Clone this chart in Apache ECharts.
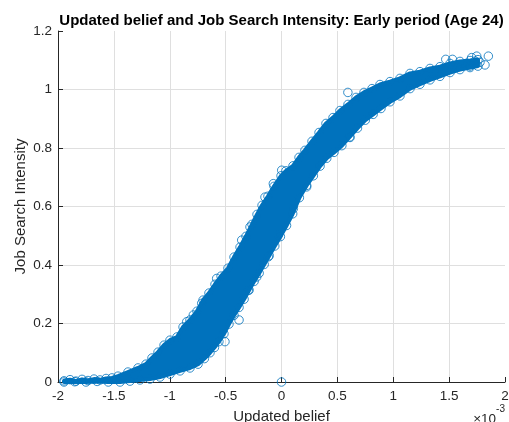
<!DOCTYPE html>
<html>
<head>
<meta charset="utf-8">
<script src="https://cdn.jsdelivr.net/npm/echarts@6/dist/echarts.min.js"></script>
<style>
  html, body { margin: 0; padding: 0; background: #ffffff; }
  #chart { width: 509px; height: 422px; }
</style>
</head>
<body>
<div id="chart"></div>
<script>
// Updated belief is stored in units of 1e-3 (the axis carries a x10^-3 multiplier).

// Upper boundary of the dense point cloud (marker centres along the top edge)
const upperBelief = [-1.946, -1.892, -1.839, -1.785, -1.732, -1.678, -1.624, -1.570, -1.517, -1.463,
  -1.374, -1.284, -1.213, -1.159, -1.105, -1.051, -0.998, -0.935, -0.881, -0.819,
  -0.756, -0.702, -0.649, -0.595, -0.541, -0.479, -0.425, -0.371, -0.318, -0.264,
  -0.219, -0.174, -0.121, -0.067, -0.004, 0.040, 0.103, 0.157, 0.210, 0.273,
  0.336, 0.398, 0.461, 0.523, 0.595, 0.667, 0.738, 0.810, 0.881, 0.971,
  1.060, 1.150, 1.239, 1.329, 1.418, 1.508, 1.597, 1.687, 1.758];
const upperIntensity = [0.004, 0.008, 0.003, 0.009, 0.005, 0.010, 0.007, 0.012, 0.014, 0.020,
  0.034, 0.048, 0.061, 0.082, 0.102, 0.126, 0.143, 0.154, 0.188, 0.212,
  0.242, 0.280, 0.304, 0.334, 0.362, 0.389, 0.427, 0.461, 0.498, 0.539,
  0.573, 0.604, 0.635, 0.669, 0.705, 0.722, 0.739, 0.768, 0.792, 0.823,
  0.853, 0.884, 0.904, 0.928, 0.949, 0.973, 0.990, 1.003, 1.017, 1.027,
  1.038, 1.055, 1.061, 1.072, 1.078, 1.089, 1.096, 1.099, 1.102];

// Lower boundary of the dense point cloud (marker centres along the bottom edge)
const lowerBelief = [-1.946, -1.850, -1.750, -1.650, -1.550, -1.445, -1.356, -1.266, -1.177, -1.087,
  -0.998, -0.908, -0.819, -0.747, -0.690, -0.640, -0.600, -0.560, -0.515, -0.470,
  -0.425, -0.380, -0.335, -0.290, -0.245, -0.200, -0.155, -0.110, -0.060, -0.010,
  0.045, 0.100, 0.160, 0.225, 0.285, 0.345, 0.405, 0.470, 0.540, 0.610,
  0.680, 0.750, 0.820, 0.890, 0.971, 1.060, 1.150, 1.239, 1.329, 1.418,
  1.508, 1.597, 1.687, 1.758];
const lowerIntensity = [0.000, 0.001, 0.000, 0.002, 0.000, 0.000, 0.003, 0.007, 0.010, 0.017,
  0.027, 0.038, 0.048, 0.061, 0.080, 0.100, 0.118, 0.138, 0.165, 0.198,
  0.228, 0.255, 0.283, 0.314, 0.344, 0.372, 0.402, 0.432, 0.465, 0.497,
  0.535, 0.575, 0.630, 0.672, 0.705, 0.738, 0.765, 0.785, 0.808, 0.838,
  0.868, 0.895, 0.915, 0.935, 0.958, 0.978, 1.003, 1.018, 1.033, 1.045,
  1.058, 1.068, 1.075, 1.080];

// Isolated observations standing out from the cloud
const looseBelief = [0.000, 0.594, 1.851, 1.821, 1.702, 1.747, 1.732, 1.687, 1.776, 0.613,
  -0.380, 1.470, 1.530, -0.848, -0.789, -0.714, -0.580, -0.356, -0.282, -0.148,
  -0.073, 0.002, -0.297, -0.222, -0.118, -0.029, 0.106, 0.225, -0.506];
const looseIntensity = [0.000, 0.990, 1.114, 1.084, 1.109, 1.114, 1.097, 1.080, 1.093, 0.836,
  0.212, 1.103, 1.103, 0.206, 0.229, 0.269, 0.354, 0.485, 0.530, 0.632,
  0.678, 0.724, 0.314, 0.359, 0.428, 0.502, 0.593, 0.667, 0.138];

// Axis ticks
const beliefTicks = { min: -2, max: 2, step: 0.5 };
const intensityTicks = { min: 0, max: 1.2, step: 0.2 };

const blue = '#0072BD';
const ink = '#262626';
const gridGray = '#dfdfdf';
const font = '"Liberation Sans", Arial, Helvetica, sans-serif';

function pairs(xs, ys) {
  return xs.map((x, i) => [x, ys[i]]);
}

const markers = pairs(upperBelief, upperIntensity)
  .concat(pairs(lowerBelief, lowerIntensity))
  .concat(pairs(looseBelief, looseIntensity));

const chart = echarts.init(document.getElementById('chart'), null, { renderer: 'canvas' });

chart.setOption({
  animation: false,
  backgroundColor: '#ffffff',
  grid: { left: 58, right: 4, top: 31, bottom: 40, containLabel: false, outerBoundsMode: 'none' },
  xAxis: {
    type: 'value',
    min: beliefTicks.min,
    max: beliefTicks.max,
    interval: beliefTicks.step,
    name: 'Updated belief',
    nameLocation: 'middle',
    nameGap: 27,
    nameMoveOverlap: false,
    nameTextStyle: { color: ink, fontSize: 15, fontFamily: font },
    axisLine: { show: true, onZero: false, lineStyle: { color: ink, width: 1 } },
    axisTick: { show: true, inside: true, length: 5, lineStyle: { color: ink } },
    axisLabel: { color: ink, fontSize: 13.5, fontFamily: font, margin: 7 },
    splitLine: { show: true, showMinLine: false, showMaxLine: false, lineStyle: { color: gridGray, width: 1 } }
  },
  yAxis: {
    type: 'value',
    min: intensityTicks.min,
    max: intensityTicks.max,
    interval: intensityTicks.step,
    name: 'Job Search Intensity',
    nameLocation: 'middle',
    nameGap: 30,
    nameMoveOverlap: false,
    nameTextStyle: { color: ink, fontSize: 15, fontFamily: font },
    axisLine: { show: true, onZero: false, lineStyle: { color: ink, width: 1 } },
    axisTick: { show: true, inside: true, length: 5, lineStyle: { color: ink } },
    axisLabel: { color: ink, fontSize: 13.5, fontFamily: font, margin: 6 },
    splitLine: { show: true, showMinLine: false, showMaxLine: false, lineStyle: { color: gridGray, width: 1 } }
  },
  graphic: [
    {
      type: 'text',
      x: 281.5,
      y: 20.5,
      style: {
        text: 'Updated belief and Job Search Intensity: Early period (Age 24)',
        fill: '#000000',
        font: 'bold 15px ' + font,
        textAlign: 'center',
        textVerticalAlign: 'middle'
      }
    },
    {
      type: 'text',
      right: 4,
      top: 404,
      style: {
        text: '{b|\u00d710}{s|-3}',
        rich: {
          b: { fontSize: 13.5, fontFamily: font, fill: ink, padding: [12, 0, 0, 0] },
          s: { fontSize: 10, fontFamily: font, fill: ink, padding: [0, 0, 8, 0] }
        }
      }
    }
  ],
  series: [
    {
      // solid core where the markers overlap completely
      type: 'custom',
      silent: true,
      z: 2,
      data: [[0, 0]],
      renderItem: function (params, api) {
        const pts = [];
        for (let i = 0; i < upperBelief.length; i++) {
          pts.push(api.coord([upperBelief[i], upperIntensity[i]]));
        }
        for (let i = lowerBelief.length - 1; i >= 0; i--) {
          pts.push(api.coord([lowerBelief[i], lowerIntensity[i]]));
        }
        return {
          type: 'polygon',
          shape: { points: pts },
          style: { fill: blue, stroke: blue, lineWidth: 4, lineJoin: 'round' }
        };
      }
    },
    {
      type: 'scatter',
      z: 3,
      silent: true,
      symbol: 'circle',
      symbolSize: 8.5,
      itemStyle: { color: 'rgba(0,0,0,0)', borderColor: blue, borderWidth: 1 },
      data: markers
    }
  ]
});
</script>
</body>
</html>
